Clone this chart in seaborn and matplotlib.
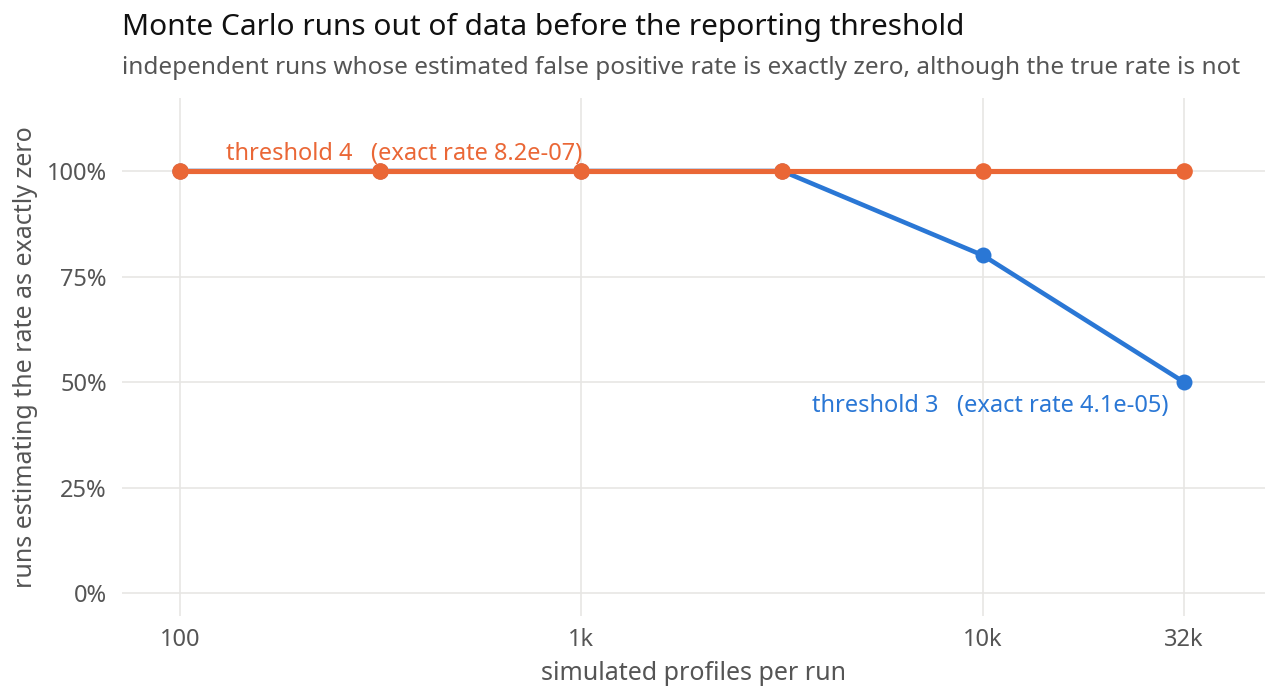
import numpy as np
import pandas as pd
import seaborn as sns
import matplotlib.pyplot as plt
from matplotlib.ticker import FixedLocator, FixedFormatter, NullLocator, PercentFormatter

# simulated profiles per run (log spaced, half-decade steps)
profiles = [100, 316, 1000, 3162, 10000, 31623]
# share of runs whose estimated rate is exactly zero
zero_share_t3 = [1.0, 1.0, 1.0, 1.0, 0.8, 0.5]
zero_share_t4 = [1.0, 1.0, 1.0, 1.0, 1.0, 1.0]

x_ticks = [100, 1000, 10000, 31623]
x_tick_labels = ["100", "1k", "10k", "32k"]

blue = "#2A77D5"
orange = "#EA6736"

t3 = pd.DataFrame({"profiles": profiles, "share": zero_share_t3})
t4 = pd.DataFrame({"profiles": profiles, "share": zero_share_t4})

sns.set_theme(style="whitegrid")
plt.rcParams["font.family"] = ["Noto Sans", "DejaVu Sans"]

fig = plt.figure(figsize=(12.8, 7), dpi=100)
ax = fig.add_axes([0.0953, 0.12, 0.8927, 0.74])

# blue first so the orange line sits on top where they overlap
sns.lineplot(data=t3, x="profiles", y="share", color=blue,
             marker="o", markersize=11.5, markeredgewidth=0, linewidth=3.3, ax=ax)
sns.lineplot(data=t4, x="profiles", y="share", color=orange,
             marker="o", markersize=12, markeredgewidth=0, linewidth=3.7, ax=ax)

ax.set_xscale("log")
ax.set_xlim(71.8, 50260)
ax.set_ylim(-0.0545, 1.173)
ax.xaxis.set_major_locator(FixedLocator(x_ticks))
ax.xaxis.set_major_formatter(FixedFormatter(x_tick_labels))
ax.xaxis.set_minor_locator(NullLocator())
ax.set_yticks([0, 0.25, 0.5, 0.75, 1.0])
ax.yaxis.set_major_formatter(PercentFormatter(1.0, decimals=0))

for s in ax.spines.values():
    s.set_visible(False)
ax.grid(True, color="#E7E6E4", linewidth=1.2)
ax.tick_params(axis="both", labelsize=17, labelcolor="#555555", length=0)
ax.tick_params(axis="x", pad=9)
ax.tick_params(axis="y", pad=11)

ax.set_xlabel("simulated profiles per run", fontsize=18, color="#555555", labelpad=6)
ax.set_ylabel("runs estimating the rate as exactly zero", fontsize=18, color="#555555", labelpad=6)

ax.text(130, 1.04, "threshold 4   (exact rate 8.2e-07)", color=orange, fontsize=17,
        ha="left", va="center")
ax.text(29000, 0.442, "threshold 3   (exact rate 4.1e-05)", color=blue, fontsize=17,
        ha="right", va="center")

fig.text(0.0953, 0.961, "Monte Carlo runs out of data before the reporting threshold",
         fontsize=21.5, color="#111111", ha="left", va="center")
fig.text(0.0953, 0.903, "independent runs whose estimated false positive rate is exactly zero, although the true rate is not",
         fontsize=17.5, color="#555555", ha="left", va="center")

fig.savefig("out.png", dpi=100)
